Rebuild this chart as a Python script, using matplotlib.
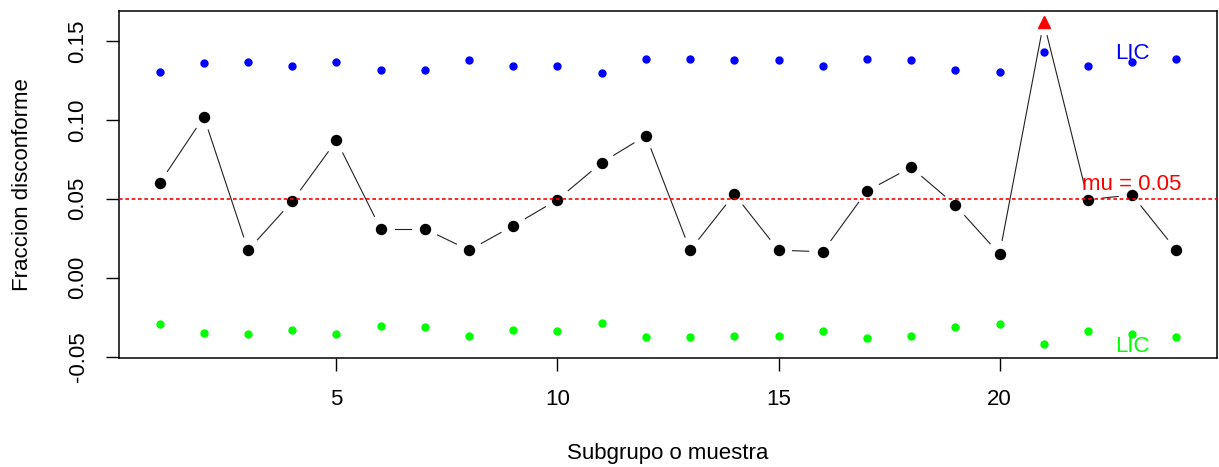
import numpy as np
import matplotlib
matplotlib.use("Agg")
import matplotlib.pyplot as plt

# p-chart data: proportion nonconforming per subgroup with variable limits
subgrupo = np.arange(1, 25)
p = [0.060, 0.102, 0.0175, 0.0485, 0.087, 0.031, 0.031, 0.0175, 0.033, 0.0495,
     0.073, 0.090, 0.0175, 0.053, 0.0175, 0.0165, 0.055, 0.070, 0.046, 0.015,
     0.162, 0.0495, 0.0525, 0.0175]
ucl = [0.1305, 0.1359, 0.1367, 0.1342, 0.1367, 0.1314, 0.1314, 0.1378, 0.1342, 0.1342,
       0.1297, 0.1386, 0.1386, 0.1378, 0.1378, 0.1342, 0.1386, 0.1378, 0.1314, 0.1305,
       0.1430, 0.1342, 0.1367, 0.1386]
lcl = [-0.0295, -0.0349, -0.0359, -0.0331, -0.0359, -0.0306, -0.0314, -0.0367, -0.0331, -0.0340,
       -0.0287, -0.0376, -0.0376, -0.0367, -0.0367, -0.0340, -0.0384, -0.0367, -0.0314, -0.0295,
       -0.0420, -0.0340, -0.0359, -0.0376]
mu = 0.05

plt.rcParams['font.family'] = ['Liberation Sans', 'DejaVu Sans']
plt.rcParams['axes.unicode_minus'] = False

fig = plt.figure(figsize=(12.19, 4.67), dpi=100)
ax = fig.add_axes([119 / 1219, 1 - 357.7 / 467, 1098 / 1219, 346.7 / 467])
ax.set_xlim(0.08, 24.92)
ax.set_ylim(-0.0506, 0.169)

p_arr = np.array(p)
out = (p_arr > np.array(ucl)) | (p_arr < np.array(lcl))

# R type="b": line segments with a gap around each point
gap = 14.0
pts = ax.transData.transform(np.column_stack([subgrupo, p_arr]))
for a, b in zip(pts[:-1], pts[1:]):
    d = b - a
    L = np.hypot(*d)
    if L <= 2 * gap:
        continue
    u = d / L
    seg = ax.transData.inverted().transform(np.vstack([a + u * gap, b - u * gap]))
    ax.plot(seg[:, 0], seg[:, 1], color='#222222', lw=0.8, zorder=2)

ax.plot(subgrupo[~out], p_arr[~out], 'o', color='black', ms=7.2, zorder=3)
ax.plot(subgrupo[out], p_arr[out], '^', color='red', ms=8, zorder=3)
ax.plot(subgrupo, ucl, 'o', color='#0000FF', ms=5, zorder=3)
ax.plot(subgrupo, lcl, 'o', color='#00FF00', ms=5, zorder=3)

ax.axhline(mu, color='#FF0000', lw=1.2, linestyle=(0, (2.2, 1.6)), zorder=4)
ax.text(23, mu + 0.0025, f"mu = {mu}", color='#FF0000', fontsize=16, ha='center', va='bottom')
ax.text(23, max(ucl) - 0.001, "LIC", color='#0000FF', fontsize=16, ha='center', va='center')
ax.text(23, min(lcl) - 0.0017, "LIC", color='#00FF00', fontsize=16, ha='center', va='center')

ax.set_xticks([5, 10, 15, 20])
ax.set_yticks([-0.05, 0.00, 0.05, 0.10, 0.15])
ax.set_yticklabels(["-0.05", "0.00", "0.05", "0.10", "0.15"], rotation=90, va='center')
ax.tick_params(axis='both', length=9.4, width=1, labelsize=16, direction='out', pad=13)
ax.tick_params(axis='y', pad=12.5)

for s in ax.spines.values():
    s.set_linewidth(1.1)

ax.set_xlabel("Subgrupo o muestra", fontsize=16, va='center')
ax.xaxis.set_label_coords(0.5, -0.275)
ax.set_ylabel("Fraccion disconforme", fontsize=16, va='center')
ax.yaxis.set_label_coords(-0.088, 0.5)

fig.savefig("out.png", dpi=100)
